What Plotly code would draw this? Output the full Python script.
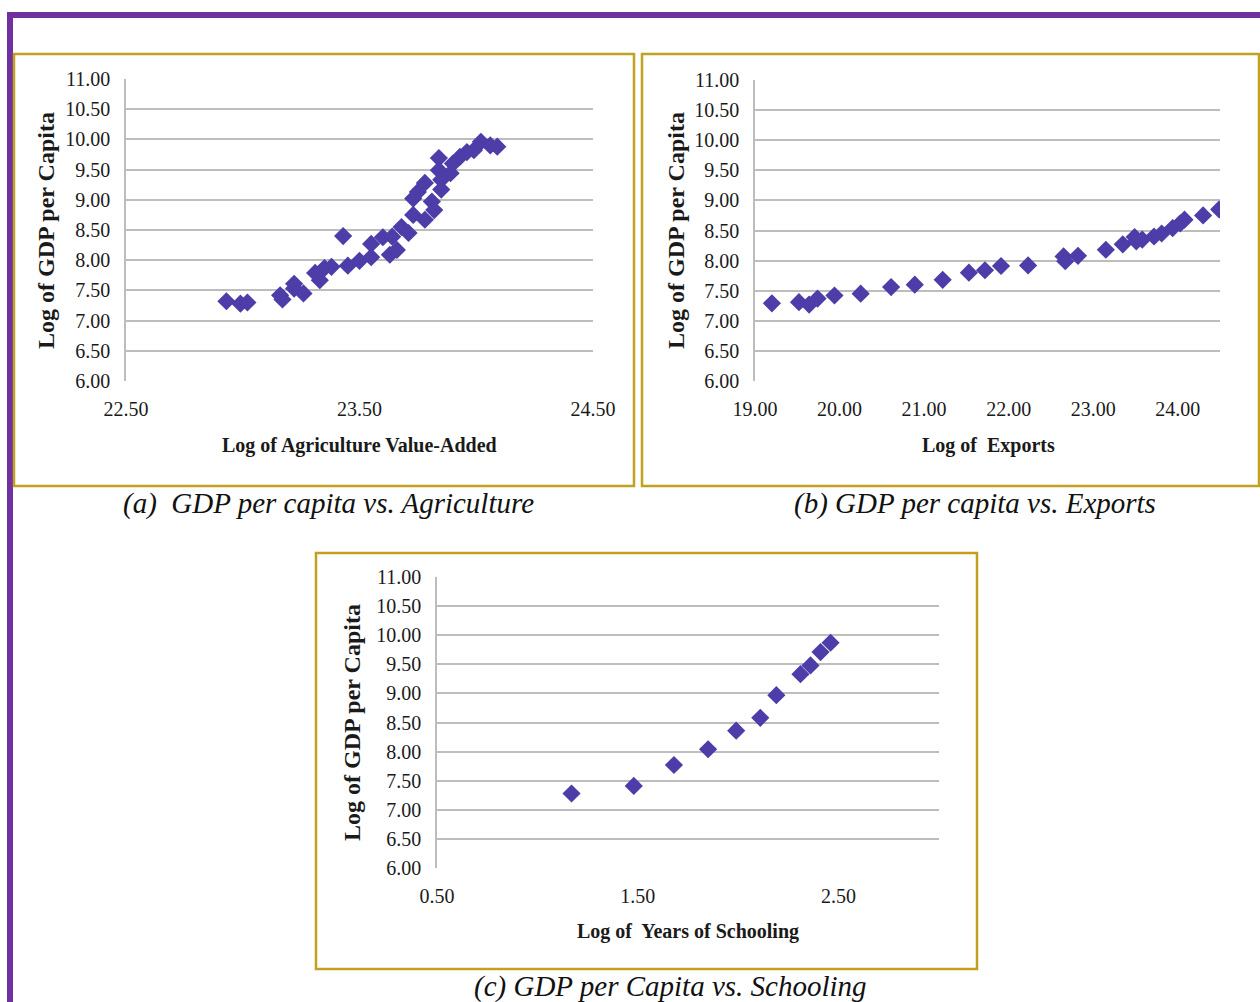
import plotly.graph_objects as go

W, H = 1260, 1002

# ---------------- data ----------------
agri_x = [22.93, 22.99, 23.02, 23.16, 23.17, 23.22, 23.22, 23.26, 23.31, 23.33,
          23.35, 23.38, 23.43, 23.45, 23.50, 23.55, 23.55, 23.60, 23.63, 23.66,
          23.64, 23.68, 23.71, 23.73, 23.73, 23.75, 23.78, 23.78, 23.81, 23.82,
          23.84, 23.84, 23.85, 23.85, 23.89, 23.90, 23.93, 23.96, 23.99, 24.02,
          24.06, 24.09]
agri_y = [7.32, 7.28, 7.30, 7.42, 7.35, 7.61, 7.53, 7.45, 7.79, 7.67,
          7.87, 7.89, 8.40, 7.91, 7.99, 8.05, 8.27, 8.38, 8.09, 8.17,
          8.39, 8.55, 8.45, 8.75, 9.02, 9.13, 9.28, 8.67, 8.97, 8.83,
          9.69, 9.49, 9.33, 9.17, 9.44, 9.60, 9.71, 9.79, 9.82, 9.96,
          9.90, 9.88]

exp_x = [19.20, 19.52, 19.64, 19.74, 19.94, 20.25, 20.61, 20.89, 21.22, 21.53,
         21.72, 21.91, 22.23, 22.65, 22.67, 22.82, 23.15, 23.35, 23.49, 23.51,
         23.58, 23.72, 23.81, 23.94, 24.03, 24.08, 24.30, 24.49]
exp_y = [7.29, 7.31, 7.27, 7.37, 7.42, 7.45, 7.56, 7.60, 7.68, 7.80,
         7.84, 7.91, 7.92, 8.07, 7.99, 8.08, 8.18, 8.27, 8.39, 8.32,
         8.35, 8.40, 8.45, 8.54, 8.62, 8.68, 8.75, 8.85]

sch_x = [1.17, 1.48, 1.68, 1.85, 1.99, 2.11, 2.19, 2.31, 2.36, 2.41, 2.46]
sch_y = [7.28, 7.41, 7.77, 8.04, 8.36, 8.58, 8.97, 9.33, 9.48, 9.71, 9.87]

y_ticks = [6.0, 6.5, 7.0, 7.5, 8.0, 8.5, 9.0, 9.5, 10.0, 10.5, 11.0]
agri_ticks = [22.5, 23.5, 24.5]
exp_ticks = [19, 20, 21, 22, 23, 24]
sch_ticks = [0.5, 1.5, 2.5]

y_title = "Log of GDP per Capita"
x_titles = ["Log of Agriculture Value-Added", "Log of  Exports", "Log of  Years of Schooling"]
captions = ["(a)  GDP per capita vs. Agriculture", "(b) GDP per capita vs. Exports",
            "(c) GDP per Capita vs. Schooling"]

# ---------------- styles ----------------
FONT = "Liberation Serif"
MARK = "#4D3DA8"
GRID = "#BDBDBD"
GOLD = "#C4A020"
PURPLE = "#7030A0"


def px(x):
    return x / W


def py(y):
    return 1 - y / H


fig = go.Figure()
marker = dict(symbol="diamond", size=14, color=MARK, line=dict(width=0))
fig.add_trace(go.Scatter(x=agri_x, y=agri_y, mode="markers", marker=marker,
                         xaxis="x", yaxis="y", showlegend=False))
fig.add_trace(go.Scatter(x=exp_x, y=exp_y, mode="markers", marker=marker,
                         xaxis="x2", yaxis="y2", showlegend=False))
fig.add_trace(go.Scatter(x=sch_x, y=sch_y, mode="markers", marker=marker,
                         xaxis="x3", yaxis="y3", showlegend=False))

tickfont = dict(family=FONT, size=20, color="#1a1a1a")


def xax(dom, rng, ticks, anchor):
    return dict(domain=dom, range=rng, tickvals=ticks, ticktext=[f"{t:.2f}" for t in ticks],
                showgrid=False, zeroline=False, showline=False, ticks="", automargin=False,
                tickfont=tickfont, ticklabelstandoff=14, anchor=anchor, fixedrange=True)


def yax(dom, anchor):
    return dict(domain=dom, range=[6, 11], tickvals=y_ticks,
                ticktext=[f"{t:.2f}" for t in y_ticks],
                showgrid=True, gridcolor=GRID, gridwidth=1.5, zeroline=False,
                showline=True, linecolor=GRID, linewidth=1.5, ticks="", automargin=False,
                tickfont=tickfont, ticklabelstandoff=10, anchor=anchor, fixedrange=True)


fig.update_layout(
    width=W, height=H, margin=dict(l=0, r=0, t=0, b=0, pad=0, autoexpand=False),
    paper_bgcolor="white", plot_bgcolor="white",
    xaxis=xax([px(126), px(593)], [22.5, 24.5], agri_ticks, "y"),
    yaxis=yax([py(381), py(79)], "x"),
    xaxis2=xax([px(755), px(1220)], [19, 24.5], exp_ticks, "y2"),
    yaxis2=yax([py(381), py(80)], "x2"),
    xaxis3=xax([px(437), px(939)], [0.5, 3.0], sch_ticks, "y3"),
    yaxis3=yax([py(868), py(577)], "x3"),
)

shapes = []
# purple frame
shapes.append(dict(type="rect", xref="paper", yref="paper", x0=px(7), x1=1, y0=py(18), y1=py(12),
                   fillcolor=PURPLE, line=dict(width=0), layer="below"))
shapes.append(dict(type="rect", xref="paper", yref="paper", x0=px(7), x1=px(13), y0=0, y1=py(12),
                   fillcolor=PURPLE, line=dict(width=0), layer="below"))
# gold panel borders
for (x0, y0, x1, y1) in [(14, 54, 634, 486), (642, 54, 1259, 486), (316, 553, 977, 969)]:
    shapes.append(dict(type="rect", xref="paper", yref="paper", x0=px(x0), x1=px(x1), y0=py(y1), y1=py(y0),
                       line=dict(color=GOLD, width=2.5), fillcolor="rgba(0,0,0,0)", layer="below"))
fig.update_layout(shapes=shapes)

ann = []
title_font = dict(family=FONT, size=20, color="#1a1a1a")
ytitle_font = dict(family=FONT, size=24, color="#1a1a1a")
for (cx, cy, txt) in [(359, 445, x_titles[0]), (988, 445, x_titles[1]), (688, 931, x_titles[2])]:
    ann.append(dict(x=px(cx), y=py(cy), xref="paper", yref="paper", text=f"<b>{txt}</b>",
                    showarrow=False, font=title_font, xanchor="center", yanchor="middle"))
for (cx, cy) in [(46, 231), (676, 231), (352, 723)]:
    ann.append(dict(x=px(cx), y=py(cy), xref="paper", yref="paper", text=f"<b>{y_title}</b>",
                    showarrow=False, font=ytitle_font, textangle=-90, xanchor="center", yanchor="middle"))
cap_font = dict(family=FONT, size=29, color="#111111")
for (cx, cy, txt) in [(328, 503, captions[0]), (975, 503, captions[1]), (670, 986, captions[2])]:
    ann.append(dict(x=px(cx), y=py(cy), xref="paper", yref="paper", text=f"<i>{txt}</i>",
                    showarrow=False, font=cap_font, xanchor="center", yanchor="middle"))
fig.update_layout(annotations=ann)

fig.write_html("out.html", config={"displayModeBar": False},
               post_script="document.body.style.margin='0';document.body.style.overflow='hidden';")
